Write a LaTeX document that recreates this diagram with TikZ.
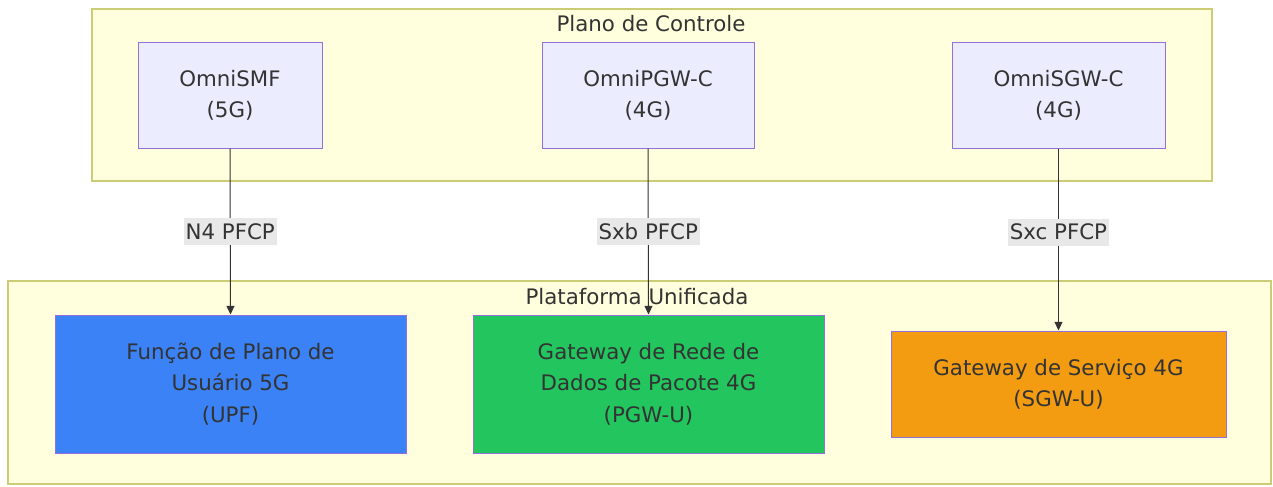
\documentclass[tikz,border=0pt]{standalone}
\usepackage{fontspec}
\setmainfont{DejaVu Sans}
\usetikzlibrary{arrows.meta}
\definecolor{clfill}{HTML}{FFFFDE}
\definecolor{cldraw}{HTML}{CCCC77}
\definecolor{nfill}{HTML}{ECECFF}
\definecolor{ndraw}{HTML}{9370DB}
\definecolor{txt}{HTML}{333333}
\definecolor{lblbg}{HTML}{E8E8E8}
\definecolor{cblue}{HTML}{3B82F6}
\definecolor{cgreen}{HTML}{22C55E}
\definecolor{corange}{HTML}{F39C12}
\def\px{0.75pt}
\tikzset{
  cluster/.style={draw=cldraw, fill=clfill, line width=1.5*\px},
  nbox/.style={draw=ndraw, fill=nfill, line width=1*\px, text=txt, align=center,
    inner sep=0pt, font=\fontsize{16}{23.5}\selectfont},
  ctitle/.style={text=txt, font=\fontsize{16}{20}\selectfont, inner sep=1pt},
  elabel/.style={fill=lblbg, text=txt, font=\fontsize{16}{20}\selectfont,
    inner xsep=1.5pt, inner ysep=4pt},
  conn/.style={draw=txt, line width=1*\px, -{Triangle[length=6.5pt,width=6pt]}}
}
\begin{document}
\begin{tikzpicture}[x=0.75pt, y=-0.75pt]
\useasboundingbox (0,0) rectangle (1273,486);
\fill[white] (0,0) rectangle (1273,486);
% clusters
\draw[cluster] (92,9) rectangle (1212,181);
\node[ctitle] (t1) at (651,24) {Plano de Controle};
\draw[cluster] (8,281) rectangle (1271,484);
\node[ctitle] (t2) at (637,297) {Plataforma Unificada};
% control plane nodes
\node[nbox, minimum width=184*\px, minimum height=106*\px] (smf) at (230,95) {OmniSMF\\(5G)};
\node[nbox, minimum width=212*\px, minimum height=106*\px] (pgwc) at (648,95) {OmniPGW-C\\(4G)};
\node[nbox, minimum width=213*\px, minimum height=106*\px] (sgwc) at (1058.5,95) {OmniSGW-C\\(4G)};
% user plane nodes
\node[nbox, fill=cblue, minimum width=351*\px, minimum height=138*\px] (upf) at (230.5,384) {Função de Plano de\\Usuário 5G\\(UPF)};
\node[nbox, fill=cgreen, minimum width=351*\px, minimum height=138*\px] (pgwu) at (648.5,384) {Gateway de Rede de\\Dados de Pacote 4G\\(PGW-U)};
\node[nbox, fill=corange, minimum width=335*\px, minimum height=106*\px] (sgwu) at (1058.5,384) {Gateway de Serviço 4G\\(SGW-U)};
% connectors
\draw[conn] (smf.south) -- node[elabel] {N4 PFCP} (upf.north);
\draw[conn] (pgwc.south) -- node[elabel] {Sxb PFCP} (pgwu.north);
\draw[conn] (sgwc.south) -- node[elabel, pos=0.46] {Sxc PFCP} (sgwu.north);
\end{tikzpicture}
\end{document}
